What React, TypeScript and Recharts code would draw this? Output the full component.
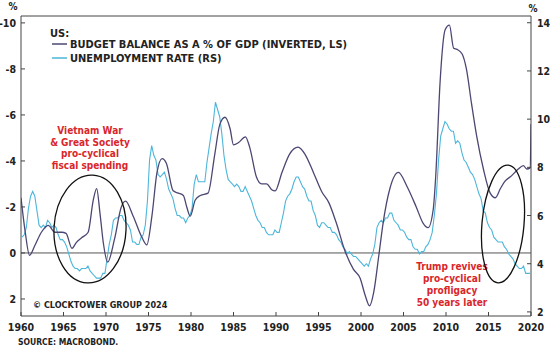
import { LineChart, Line, XAxis, YAxis, ReferenceLine } from "recharts";

// US unemployment rate, quarterly (one row per year, Q1..Q4), %
const unempStartYear = 1960;
const unempRates: number[][] = [
  [5.1, 5.2, 5.5, 6.3], [6.8, 7.0, 6.8, 6.2], [5.6, 5.5, 5.6, 5.5], [5.8, 5.7, 5.5, 5.6],
  [5.5, 5.2, 5.0, 5.0], [4.9, 4.7, 4.4, 4.1], [3.9, 3.8, 3.8, 3.7], [3.8, 3.8, 3.8, 3.9],
  [3.7, 3.6, 3.5, 3.4], [3.4, 3.4, 3.6, 3.6], [4.2, 4.8, 5.2, 5.8], [5.9, 5.9, 6.0, 6.0],
  [5.8, 5.7, 5.6, 5.4], [4.9, 4.9, 4.8, 4.8], [5.1, 5.2, 5.6, 6.6], [8.3, 8.9, 8.5, 8.3],
  [7.7, 7.6, 7.7, 7.8], [7.5, 7.1, 6.9, 6.7], [6.3, 6.0, 6.0, 5.9], [5.9, 5.7, 5.9, 6.0],
  [6.3, 7.3, 7.7, 7.4], [7.4, 7.4, 7.4, 8.2], [8.8, 9.4, 9.9, 10.7], [10.4, 10.1, 9.4, 8.5],
  [7.9, 7.5, 7.4, 7.3], [7.2, 7.3, 7.2, 7.0], [7.0, 7.2, 7.0, 6.8], [6.6, 6.3, 6.0, 5.8],
  [5.7, 5.5, 5.5, 5.3], [5.2, 5.2, 5.2, 5.4], [5.3, 5.3, 5.7, 6.1], [6.6, 6.8, 6.9, 7.1],
  [7.4, 7.6, 7.6, 7.4], [7.2, 7.1, 6.8, 6.6], [6.6, 6.2, 6.0, 5.6], [5.5, 5.7, 5.7, 5.6],
  [5.5, 5.5, 5.3, 5.3], [5.2, 5.0, 4.9, 4.7], [4.6, 4.4, 4.5, 4.4], [4.3, 4.3, 4.2, 4.1],
  [4.0, 3.9, 4.0, 3.9], [4.2, 4.4, 4.8, 5.5], [5.7, 5.8, 5.7, 5.9], [5.9, 6.1, 6.1, 5.8],
  [5.7, 5.6, 5.4, 5.4], [5.3, 5.1, 5.0, 5.0], [4.7, 4.6, 4.6, 4.4], [4.5, 4.5, 4.7, 4.8],
  [5.0, 5.3, 6.0, 6.9], [8.3, 9.3, 9.6, 9.9], [9.8, 9.6, 9.5, 9.5], [9.0, 9.1, 9.0, 8.6],
  [8.3, 8.2, 8.0, 7.8], [7.7, 7.5, 7.2, 6.9], [6.7, 6.2, 6.1, 5.7], [5.5, 5.4, 5.1, 5.0],
  [4.9, 4.9, 4.9, 4.7], [4.6, 4.4, 4.3, 4.2], [4.0, 3.9, 3.8, 3.8], [3.9, 3.6, 3.6, 3.6],
];

// budget balance as % of GDP (plotted on an inverted left axis)
const budgetYears = [
  1960.0, 1960.5, 1961.0, 1961.6, 1962.4, 1963.2, 1964.0, 1964.8, 1965.3, 1966.0,
  1966.5, 1967.1, 1967.9, 1968.5, 1968.9, 1969.3, 1969.7, 1970.2, 1971.0, 1971.8,
  1972.3, 1973.2, 1974.2, 1974.8, 1975.4, 1976.0, 1976.6, 1977.1, 1977.9, 1978.5,
  1979.1, 1979.5, 1979.9, 1980.5, 1981.1, 1982.0, 1982.8, 1983.4, 1984.0, 1984.6,
  1985.0, 1985.6, 1986.4, 1986.9, 1987.7, 1988.3, 1988.9, 1989.5, 1989.9, 1990.7,
  1991.6, 1992.6, 1993.4, 1994.4, 1995.4, 1996.2, 1997.1, 1998.1, 1999.1, 1999.9,
  2000.5, 2001.0, 2001.5, 2002.1, 2002.6, 2003.4, 2004.4, 2005.4, 2006.5, 2007.3,
  2007.9, 2008.5, 2008.8, 2009.3, 2009.9, 2010.4, 2010.9, 2011.3, 2011.9, 2012.4,
  2013.0, 2013.6, 2014.4, 2015.2, 2015.8, 2016.4, 2016.9, 2017.7, 2018.5, 2019.1,
  2019.5, 2019.9, 2020.0,
];
const budgetValues = [
  -2.4, -0.9, 0.1, -0.3, -0.9, -1.2, -0.9, -0.9, -0.85, -0.2,
  -0.45, -0.65, -0.9, -2.3, -2.8, -1.7, -0.4, 0.4, -0.6, -2.0,
  -2.25, -1.6, -0.7, -0.35, -1.6, -3.5, -4.1, -3.9, -2.7, -2.6,
  -2.5, -2.0, -1.6, -2.3, -2.5, -2.6, -4.3, -5.6, -5.9, -5.4,
  -4.7, -4.8, -5.05, -4.6, -3.3, -3.0, -3.0, -2.75, -2.7, -3.5,
  -4.3, -4.6, -4.3, -3.5, -2.65, -2.2, -1.3, -0.1, 0.7, 1.1,
  1.85, 2.3, 1.7, 0.1, -1.3, -2.8, -3.5, -2.9, -2.0, -1.3,
  -1.1, -1.9, -3.4, -7.4, -9.7, -9.9, -8.9, -8.85, -8.65, -8.0,
  -6.5, -5.1, -3.65, -2.6, -2.4, -2.8, -3.1, -3.35, -3.65, -3.8,
  -3.65, -3.7, -5.6,
];

const yearTicks = [1960, 1965, 1970, 1975, 1980, 1985, 1990, 1995, 2000, 2005, 2010, 2015, 2020];
const leftTicks = [-10, -8, -6, -4, -2, 0, 2];
const rightTicks = [2, 4, 6, 8, 10, 12, 14];
const LEFT_MIN = -10.3;
const LEFT_MAX = 2.74;

const unempData = unempRates.flatMap((row, i) =>
  row.map((u, q) => ({ year: unempStartYear + i + q / 4 + 0.125, u }))
);
const budgetData = budgetYears.map((year, i) => ({ year, b: budgetValues[i] }));

const FONT = "'Liberation Sans Narrow', 'DejaVu Sans Condensed', sans-serif";
const INK = "#222";
const PURPLE = "#4b4772";
const CYAN = "#4db6da";
const RED = "#d9262b";
const AXIS = "#444";

const LeftTick = (p: any) => (
  <g>
    <line x1={p.x} x2={p.x + 4} y1={p.y} y2={p.y} stroke={AXIS} />
    <text x={p.x - 5} y={p.y + 4} textAnchor="end" fontSize={10.5} fontWeight={700} fill={INK} fontFamily={FONT}>
      {p.payload.value}
    </text>
  </g>
);

const RightTick = (p: any) => (
  <g>
    <line x1={p.x - 4} x2={p.x} y1={p.y} y2={p.y} stroke={AXIS} />
    <text x={p.x + 6} y={p.y + 4} textAnchor="start" fontSize={10.5} fontWeight={700} fill={INK} fontFamily={FONT}>
      {p.payload.value}
    </text>
  </g>
);

const BottomTick = (p: any) => (
  <g>
    <line x1={p.x} x2={p.x} y1={p.y - 4} y2={p.y} stroke={AXIS} />
    <text x={p.x} y={p.y + 15} textAnchor="middle" fontSize={10.5} fontWeight={700} fill={INK} fontFamily={FONT}>
      {p.payload.value}
    </text>
  </g>
);

export default function App() {
  return (
    <div style={{ position: "absolute", left: 0, top: 0, width: 550, height: 353, background: "#fff" }}>
      <LineChart width={550} height={353} margin={{ top: 16, right: 0, bottom: 0, left: 0 }}>
        <XAxis
          dataKey="year"
          type="number"
          domain={[1960, 2020]}
          ticks={yearTicks}
          allowDataOverflow
          height={37}
          tickSize={0}
          tickMargin={0}
          tick={<BottomTick />}
          axisLine={{ stroke: AXIS }}
          tickLine={false}
          interval={0}
        />
        <YAxis
          yAxisId="left"
          type="number"
          domain={[LEFT_MIN, LEFT_MAX]}
          reversed
          ticks={leftTicks}
          allowDataOverflow
          width={21}
          tickSize={0}
          tickMargin={0}
          tick={<LeftTick />}
          axisLine={{ stroke: AXIS }}
          tickLine={false}
          interval={0}
        />
        <YAxis
          yAxisId="right"
          orientation="right"
          type="number"
          domain={[1.83, 14.28]}
          ticks={rightTicks}
          allowDataOverflow
          width={19}
          tickSize={0}
          tickMargin={0}
          tick={<RightTick />}
          axisLine={{ stroke: AXIS }}
          tickLine={false}
          interval={0}
        />
        <ReferenceLine yAxisId="left" y={LEFT_MIN} stroke={AXIS} />
        <ReferenceLine yAxisId="left" y={0} stroke="#555" />
        <Line
          yAxisId="right"
          data={unempData}
          dataKey="u"
          type="linear"
          stroke={CYAN}
          strokeWidth={1.1}
          dot={false}
          isAnimationActive={false}
        />
        <Line
          yAxisId="left"
          data={budgetData}
          dataKey="b"
          type="monotone"
          stroke={PURPLE}
          strokeWidth={1.3}
          dot={false}
          isAnimationActive={false}
        />
      </LineChart>

      <svg
        width={550}
        height={353}
        style={{ position: "absolute", left: 0, top: 0, pointerEvents: "none" }}
        fontFamily={FONT}
        fontWeight={700}
      >
        <text x={13} y={10} textAnchor="middle" fontSize={10} fill={INK}>%</text>
        <text x={533} y={12} textAnchor="middle" fontSize={10} fill={INK}>%</text>

        {/* legend */}
        <text x={50} y={37} fontSize={11} fill={INK}>US:</text>
        <line x1={52} x2={67} y1={44} y2={44} stroke={PURPLE} strokeWidth={1.5} />
        <text x={70} y={48} fontSize={11} fill={INK}>BUDGET BALANCE AS A % OF GDP (INVERTED, LS)</text>
        <line x1={52} x2={67} y1={58} y2={58} stroke={CYAN} strokeWidth={1.5} />
        <text x={70} y={62} fontSize={11} fill={INK}>UNEMPLOYMENT RATE (RS)</text>

        {/* annotations */}
        <g fill={RED} fontSize={10} textAnchor="middle">
          <text x={90} y={134}>Vietnam War</text>
          <text x={90} y={146}>&amp; Great Society</text>
          <text x={90} y={157}>pro-cyclical</text>
          <text x={90} y={169}>fiscal spending</text>
          <text x={452} y={270}>Trump revives</text>
          <text x={452} y={282}>pro-cyclical</text>
          <text x={452} y={294}>profligacy</text>
          <text x={452} y={306}>50 years later</text>
        </g>
        <ellipse cx={90} cy={229} rx={36} ry={54} fill="none" stroke="#111" strokeWidth={1.3} transform="rotate(3 90 229)" />
        <ellipse cx={503} cy={224} rx={21} ry={59} fill="none" stroke="#111" strokeWidth={1.3} transform="rotate(5 503 224)" />

        <text x={33} y={308} fontSize={9} fill={INK}>© CLOCKTOWER GROUP 2024</text>
        <text x={18} y={345} fontSize={8.5} fill={INK}>SOURCE: MACROBOND.</text>
      </svg>
    </div>
  );
}
